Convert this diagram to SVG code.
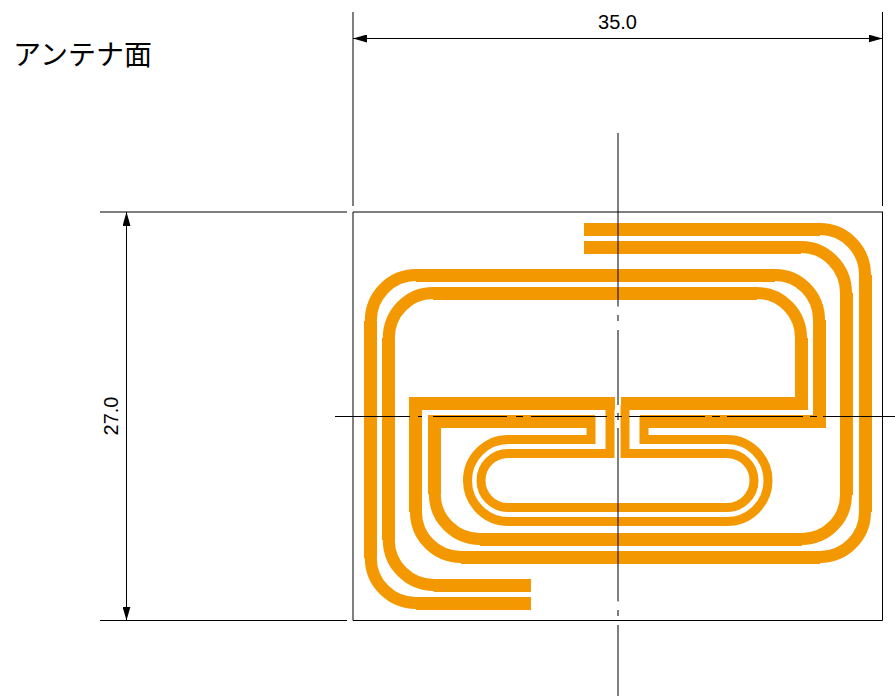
<svg xmlns="http://www.w3.org/2000/svg" width="895" height="696" viewBox="0 0 895 696">
<style>
.thick{fill:none;stroke:#F39800;stroke-width:13;stroke-linejoin:miter}
.arc{fill:none;stroke:#F39800;stroke-width:12}
.thin{fill:none;stroke:#F39800;stroke-width:9;stroke-linejoin:miter}
.ln{fill:none;stroke:#000;stroke-width:1}
.lbl{font-family:"Liberation Sans",Arial,sans-serif;font-size:20px;fill:#000;text-anchor:middle}
.ttl{font-family:"Liberation Sans","Noto Sans CJK JP",sans-serif;font-size:28px;fill:#000}
</style>
<defs>
<marker id="arr" viewBox="0 0 14 8" refX="14" refY="4" markerUnits="userSpaceOnUse" markerWidth="14" markerHeight="8" orient="auto-start-reverse"><path d="M0 0L14 4L0 8Z" fill="#000"/></marker>
</defs>
<rect width="895" height="696" fill="#fff"/>
<text class="ttl" x="13" y="65">アンテナ面</text>
<g id="antenna">
<path class="thick" d="M584 229.500H820M865.500 275V512M820 557.500H461M415.500 512V403.500H615"/>
<path class="arc" d="M820 229A45 46 0 0 1 865 275M865 512A45 45 0 0 1 820 557M461 557A45 45 0 0 1 416 512"/>
<path class="thin" d="M610 405V453.500H508A27 27 0 0 0 508 507.500H727A27 27 0 0 0 727 453.500H625V405"/>
<path class="thick" d="M621 403.500H801.500V338M757 293.500H433M388.500 338V540M434 585.500H531"/>
<path class="arc" d="M757 293A44 45 0 0 1 801 338M433 293A44.200 45 0 0 0 388.800 338M388.800 540A45.200 45 0 0 0 434 585"/>
<path class="thick" d="M531 603.500H416M370.500 558V321M416 275.500H775M819.500 320V421.500H640"/>
<path class="arc" d="M416 603A45.200 45 0 0 1 370.800 558M370.800 321A45.200 46 0 0 1 416 275M775 275A44 45 0 0 1 819 320"/>
<path class="thin" d="M644 416V439.500H727A41 41 0 0 1 727 521.500H508.500A41 41 0 0 1 508.500 439.500H591V416"/>
<path class="thick" d="M595 421.500H434.500V494M480 539.500H802M846.500 495V293M801 247.500H584"/>
<path class="arc" d="M434.800 494A45.200 45 0 0 0 480 539M802 539A44 44 0 0 0 846 495M846 293A45 46 0 0 0 801 247"/>
</g>
<g id="frame">
<path class="ln" d="M353 212H883"/>
<path class="ln" d="M353 212V620.500"/>
<path class="ln" d="M882.500 212V620.500H353"/>
</g>
<g id="centerlines">
<path class="ln" d="M618 133V306.500M618 315V321M618 330V405M618 413V420M618 428V601.500M618 610V616M618 625V696"/>
<path class="ln" d="M335 416.500H410M418 416.500H422M433 416.500H507M516 416.500H523M531 416.500H607M615 416.500H622M629 416.500H705M712 416.500H720M727 416.500H803M810 416.500H817M823 416.500H895"/>
</g>
<g id="dimensions">
<path class="ln" d="M353 12V206M882.500 12V206M100 212H347M100 620.500H347"/>
<path class="ln" marker-start="url(#arr)" marker-end="url(#arr)" d="M353 38.500H882.500"/>
<path class="ln" marker-start="url(#arr)" marker-end="url(#arr)" d="M126.500 212V620.500"/>
<text class="lbl" x="617.500" y="29">35.0</text>
<text class="lbl" transform="translate(118 416) rotate(-90)">27.0</text>
</g>
</svg>
